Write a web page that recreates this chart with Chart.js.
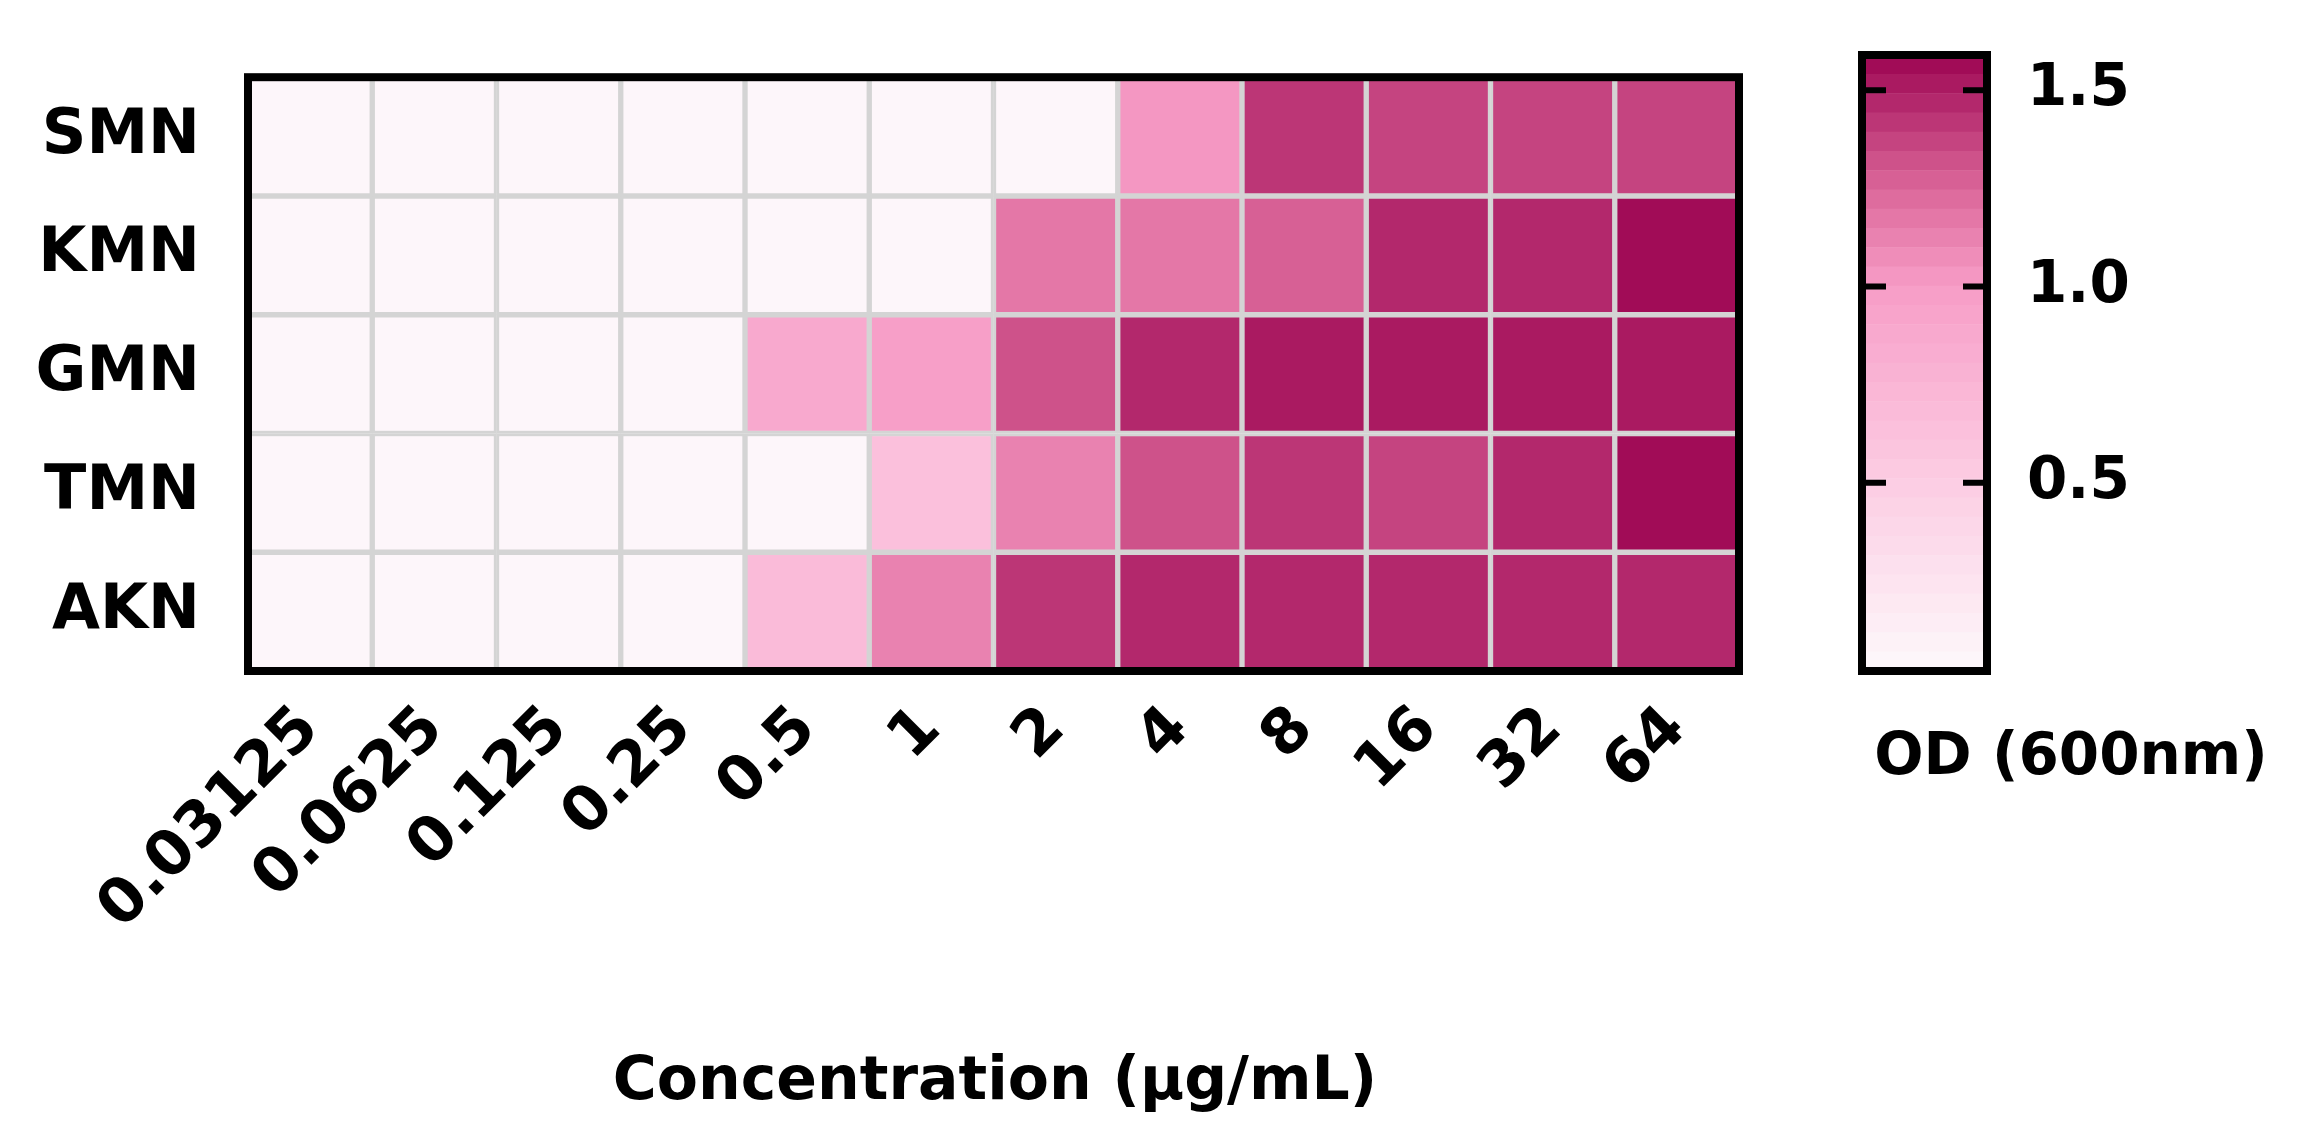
<!DOCTYPE html>
<html>
<head>
<meta charset="utf-8">
<script src="https://cdn.jsdelivr.net/npm/chart.js@4/dist/chart.umd.min.js"></script>
<style>
  body { margin: 0; background: #fff; }
  #heat { position: absolute; left: 0; top: 0; }
  #bar { position: absolute; left: 1840px; top: 0; }
</style>
</head>
<body>
<canvas id="heat" width="2300" height="1136"></canvas>
<canvas id="bar" width="460" height="1136"></canvas>
<script>
const concentrations = ["0.03125", "0.0625", "0.125", "0.25", "0.5", "1", "2", "4", "8", "16", "32", "64"];
const strains = ["SMN", "KMN", "GMN", "TMN", "AKN"];
const smn = [0.03, 0.03, 0.03, 0.03, 0.03, 0.03, 0.03, 1.05, 1.42, 1.38, 1.38, 1.38];
const kmn = [0.03, 0.03, 0.03, 0.03, 0.03, 0.03, 1.15, 1.18, 1.28, 1.45, 1.48, 1.56];
const gmn = [0.03, 0.03, 0.03, 0.03, 0.9, 1.0, 1.3, 1.45, 1.52, 1.52, 1.52, 1.5];
const tmn = [0.03, 0.03, 0.03, 0.03, 0.03, 0.65, 1.1, 1.32, 1.42, 1.38, 1.47, 1.56];
const akn = [0.03, 0.03, 0.03, 0.03, 0.7, 1.12, 1.42, 1.45, 1.46, 1.46, 1.48, 1.48];
const rows = [smn, kmn, gmn, tmn, akn];
const scaleMin = 0.02, scaleMax = 1.59;
const scaleTicks = [0.5, 1.0, 1.5];
const bandCount = 32;

const FONT = "'DejaVu Sans', 'Liberation Sans', sans-serif";

// colour stops along the OD scale
const stops = [
  [0.0, [253, 250, 252]],
  [0.5, [252, 205, 227]],
  [1.0, [247, 157, 199]],
  [1.25, [219, 102, 153]],
  [1.59, [156, 5, 82]],
];
function colorFor(v) {
  // quantise to band like the stepped legend
  const step = (scaleMax - scaleMin) / bandCount;
  let b = Math.min(bandCount - 1, Math.max(0, Math.floor((v - scaleMin) / step)));
  v = scaleMin + (b + 0.5) * step;
  for (let i = 1; i < stops.length; i++) {
    if (v <= stops[i][0] || i === stops.length - 1) {
      const [a0, c0] = stops[i - 1], [a1, c1] = stops[i];
      const t = Math.max(0, Math.min(1, (v - a0) / (a1 - a0)));
      const c = c0.map((x, k) => Math.round(x + (c1[k] - x) * t));
      return `rgb(${c[0]},${c[1]},${c[2]})`;
    }
  }
}

const frame = {
  id: "frame",
  afterDraw(chart, args, opts) {
    const { ctx, chartArea: a } = chart;
    ctx.save();
    ctx.strokeStyle = "#000";
    ctx.lineWidth = 8;
    ctx.strokeRect(a.left, a.top, a.right - a.left, a.bottom - a.top);
    if (opts.xTitle) {
      ctx.fillStyle = "#000";
      ctx.font = `bold 60px ${FONT}`;
      ctx.textAlign = "center";
      ctx.textBaseline = "middle";
      ctx.fillText(opts.xTitle, 995, 1083);
    }
    ctx.restore();
  },
};

new Chart(document.getElementById("heat"), {
  type: "bar",
  data: {
    labels: concentrations,
    datasets: rows.map((vals, r) => ({
      label: strains[r],
      data: vals.map(() => [r, r + 1]),
      backgroundColor: vals.map(colorFor),
      borderColor: "#d4d4d4",
      borderWidth: 3,
      borderSkipped: false,
      grouped: false,
      barPercentage: 1,
      categoryPercentage: 1,
    })),
  },
  options: {
    responsive: false,
    animation: false,
    layout: { padding: { left: 0, right: 561, top: 55, bottom: 0 } },
    plugins: { legend: { display: false }, tooltip: { enabled: false }, frame: { xTitle: "Concentration (\u03bcg/mL)" } },
    scales: {
      x: {
        grid: { display: false },
        border: { display: false },
        ticks: { color: "#000", font: { family: FONT, size: 62, weight: "bold" }, minRotation: 45, maxRotation: 45, padding: 14 },
        afterFit(s) { s.height = 465; },
      },
      y: {
        min: 0, max: 5, reverse: true,
        grid: { display: false },
        border: { display: false },
        afterBuildTicks(s) { s.ticks = strains.map((_, i) => ({ value: i + 0.5 })); },
        ticks: {
          color: "#000", font: { family: FONT, size: 62, weight: "bold" }, padding: 40,
          callback: (v) => strains[Math.floor(v)],
        },
        afterFit(s) { s.width = 248; },
      },
    },
  },
  plugins: [frame],
});

// colour bar
const bands = [];
const bandColors = [];
for (let i = 0; i < bandCount; i++) {
  const lo = scaleMin + (scaleMax - scaleMin) * i / bandCount;
  const hi = scaleMin + (scaleMax - scaleMin) * (i + 1) / bandCount;
  bands.push([lo, hi]);
  bandColors.push(colorFor((lo + hi) / 2));
}
const barDeco = {
  id: "barDeco",
  afterDraw(chart) {
    const { ctx, chartArea: a } = chart;
    const y = chart.scales.y;
    ctx.save();
    ctx.strokeStyle = "#000";
    ctx.lineWidth = 8;
    ctx.strokeRect(a.left, a.top, a.right - a.left, a.bottom - a.top);
    ctx.lineWidth = 6;
    ctx.fillStyle = "#000";
    ctx.font = `bold 58px ${FONT}`;
    ctx.textBaseline = "middle";
    ctx.textAlign = "left";
    scaleTicks.forEach((t) => {
      const py = y.getPixelForValue(t);
      ctx.beginPath();
      ctx.moveTo(a.left, py); ctx.lineTo(a.left + 24, py);
      ctx.moveTo(a.right, py); ctx.lineTo(a.right - 24, py);
      ctx.stroke();
      ctx.fillText(t.toFixed(1), a.right + 40, py);
    });
    ctx.textAlign = "center";
    ctx.fillText("OD (600nm)", 231, 759);
    ctx.restore();
  },
};
new Chart(document.getElementById("bar"), {
  type: "bar",
  data: {
    labels: [""],
    datasets: bands.map((b, i) => ({
      data: [b],
      backgroundColor: bandColors[i],
      borderWidth: 0,
      grouped: false,
      barPercentage: 1,
      categoryPercentage: 1,
    })),
  },
  options: {
    responsive: false,
    animation: false,
    layout: { padding: { left: 22, right: 313, top: 55, bottom: 465 } },
    plugins: { legend: { display: false }, tooltip: { enabled: false } },
    scales: {
      x: { display: false },
      y: { display: false, min: scaleMin, max: scaleMax },
    },
  },
  plugins: [barDeco],
});
</script>
</body>
</html>
